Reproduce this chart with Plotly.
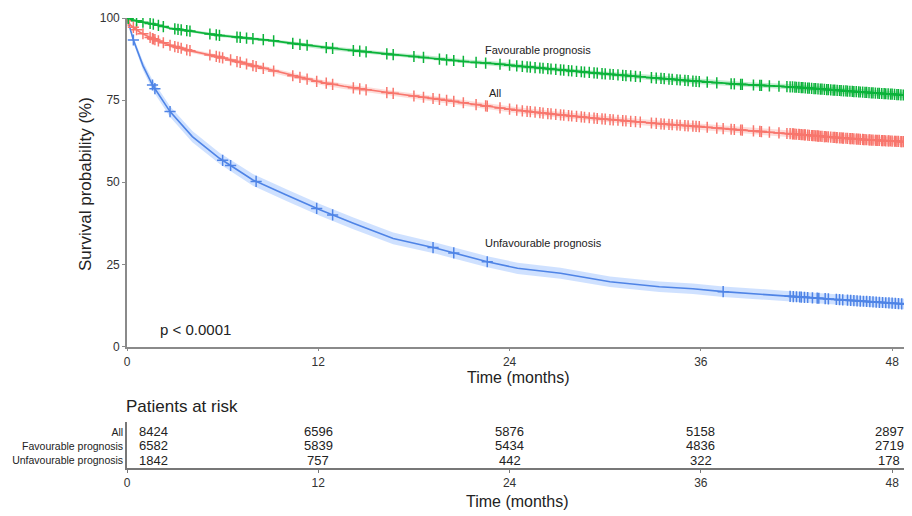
import numpy as np
import plotly.graph_objects as go

# ---------------- data ----------------
fav_t = [0, 0.3, 1.0, 1.6, 2.7, 4.0, 5.8, 7.5, 9.0, 10.5, 12.1, 13.6, 15.2, 16.8, 18.4, 20.0, 21.5, 23.0,
         24.5, 27.0, 29.5, 32.0, 34.0, 36.0, 38.5, 41.8, 44.5, 46.5, 48.9]
fav_s = [100, 99.5, 98.7, 98.2, 96.9, 96.0, 94.7, 93.9, 93.2, 92.2, 91.2, 90.4, 89.6, 88.8, 88.1, 87.3, 86.6, 86.1,
         85.4, 84.3, 83.2, 82.2, 81.4, 80.6, 79.8, 79.0, 78.0, 77.3, 76.5]
fav_ci = [0, 0.2, 0.3, 0.3, 0.4, 0.4, 0.5, 0.5, 0.5, 0.6, 0.6, 0.6, 0.6, 0.6, 0.7, 0.7, 0.7, 0.7,
          0.7, 0.7, 0.7, 0.8, 0.8, 0.8, 0.8, 0.8, 0.9, 0.9, 0.9]

all_t = [0, 0.2, 0.8, 1.6, 2.7, 4.0, 5.8, 7.5, 9.0, 10.5, 12.1, 13.6, 15.2, 16.8, 18.4, 20.0, 21.5, 23.0,
         24.5, 27.0, 29.5, 32.0, 34.0, 36.0, 38.5, 41.8, 44.5, 46.5, 48.9]
all_s = [100, 97.9, 95.7, 93.7, 91.7, 90.0, 88.1, 86.0, 84.1, 82.3, 80.5, 79.2, 78.0, 77.0, 76.0, 75.0, 73.9, 72.9,
         71.9, 70.6, 69.4, 68.4, 67.6, 66.9, 65.9, 64.7, 63.6, 62.9, 62.3]
all_ci = [0, 0.3, 0.4, 0.5, 0.5, 0.6, 0.6, 0.7, 0.7, 0.7, 0.8, 0.8, 0.8, 0.8, 0.8, 0.8, 0.9, 0.9,
          0.9, 0.9, 0.9, 0.9, 1.0, 1.0, 1.0, 1.0, 1.0, 1.1, 1.1]

unf_t = [0, 0.4, 1.0, 1.6, 2.7, 4.1, 5.8, 7.9, 10.0, 12.1, 14.2, 16.7, 19.4, 22.6, 24.5, 27.2, 30.3, 33.4,
         35.5, 37.4, 41.2, 44.9, 48.9]
unf_s = [100, 93.3, 85.5, 79.6, 71.5, 63.9, 57.3, 50.7, 46.1, 41.6, 37.5, 32.9, 29.9, 25.8, 23.8, 22.3, 19.7, 18.2,
         17.6, 16.7, 15.4, 14.2, 12.9]
unf_ci = [0, 0.9, 1.3, 1.5, 1.6, 1.7, 1.7, 1.8, 1.8, 1.8, 1.8, 1.8, 1.7, 1.7, 1.7, 1.7, 1.6, 1.6,
          1.6, 1.6, 1.6, 1.6, 1.6]

# censoring times (months)
fav_cens = [0.08, 0.6, 1.0, 1.45, 1.65, 1.97, 2.28, 3.0, 3.2, 3.4, 3.75, 3.95, 5.2, 5.6, 5.8, 6.9, 7.1, 7.5,
            7.9, 8.55, 9.2, 10.4, 10.85, 11.3, 12.5, 12.9, 14.2, 14.6, 15.0, 16.3, 16.7, 18.0, 18.6, 19.6,
            20.05, 20.5, 21.1, 21.9, 22.5, 23.4, 24.0, 24.45, 24.8, 25.1, 25.3, 25.6, 25.9, 26.1, 26.4, 26.6,
            26.9, 27.2, 27.4, 27.7, 27.9, 28.2, 28.5, 28.7, 29.0, 29.3, 29.5, 29.8, 30.0, 30.3, 30.5, 30.8,
            31.1, 31.3, 31.6, 31.9, 32.2, 32.9, 33.2, 33.5, 33.7, 34.0, 34.2, 34.5, 34.7, 35.0, 35.2, 35.5,
            35.7, 35.9, 36.4, 37.0, 37.9, 38.1, 38.5, 38.6, 39.3, 39.7, 39.8, 40.3, 40.9, 41.4, 41.6, 41.75,
            41.9, 42.0, 42.15, 42.3, 42.4, 42.55, 42.7, 42.8, 42.95, 43.1, 43.2, 43.35, 43.5, 43.6, 43.75,
            43.9, 44.0, 44.15, 44.3, 44.4, 44.55, 44.7, 44.8, 44.95, 45.1, 45.2, 45.35, 45.5, 45.6, 45.75,
            45.9, 46.0, 46.15, 46.3, 46.4, 46.55, 46.7, 46.8, 46.95, 47.1, 47.2, 47.35, 47.5, 47.6, 47.75,
            47.9, 48.0, 48.15, 48.3, 48.4, 48.55, 48.7, 48.8]
unf_cens = [0.4, 1.6, 1.75, 2.7, 6.0, 6.5, 8.1, 11.9, 12.9, 19.2, 20.5, 22.6, 37.4, 41.6, 41.8, 42.0, 42.2,
            42.3, 42.5, 42.7, 43.0, 43.3, 43.4, 43.8, 44.0, 44.5, 44.7, 44.9, 45.2, 45.4, 45.6, 45.8, 46.0,
            46.2, 46.4, 46.6, 46.8, 47.0, 47.2, 47.4, 47.6, 47.8, 48.0, 48.2, 48.4, 48.6, 48.8]
all_cens = sorted(set(fav_cens) | set(unf_cens))

# risk table
risk_times = [0, 12, 24, 36, 48]
risk_groups = ["All", "Favourable prognosis", "Unfavourable prognosis"]
risk_all = [8424, 6596, 5876, 5158, 2897]
risk_fav = [6582, 5839, 5434, 4836, 2719]
risk_unf = [1842, 757, 442, 322, 178]

x_ticks = [0, 12, 24, 36, 48]
y_ticks = [0, 25, 50, 75, 100]

# ---------------- styling ----------------
OFF = 8                      # page body margin of the html page
FW, FH = 900, 504            # figure size


def px(x):                   # screen x pixel -> paper fraction
    return (x - OFF) / FW


def py(y):                   # screen y pixel -> paper fraction
    return 1 - (y - OFF) / FH


GREEN, RED, BLUE = "#0BB33A", "#F8766D", "#4F84E6"
GREEN_F, RED_F, BLUE_F = "rgba(11,179,58,0.25)", "rgba(248,118,109,0.25)", "rgba(97,156,255,0.30)"
FONT = "Liberation Sans, Arial, sans-serif"
AXC = "#8a8a8a"
TXT = "#222222"

fig = go.Figure()


def add_curve(t, s, ci, cens, col, fill):
    t = np.array(t, float)
    s = np.array(s, float)
    ci = np.array(ci, float)
    fig.add_trace(go.Scatter(x=np.concatenate([t, t[::-1]]),
                             y=np.concatenate([s + ci, (s - ci)[::-1]]),
                             fill="toself", fillcolor=fill, line=dict(width=0),
                             hoverinfo="skip", showlegend=False, xaxis="x", yaxis="y"))
    fig.add_trace(go.Scatter(x=t, y=s, mode="lines", line=dict(color=col, width=1.6),
                             showlegend=False, xaxis="x", yaxis="y"))
    ct = np.array(cens, float)
    cy = np.interp(ct, t, s)
    fig.add_trace(go.Scatter(x=ct, y=cy, mode="markers",
                             marker=dict(symbol="cross-thin", size=8, color=col,
                                         line=dict(color=col, width=1.5)),
                             showlegend=False, xaxis="x", yaxis="y"))


add_curve(unf_t, unf_s, unf_ci, unf_cens, BLUE, BLUE_F)
add_curve(all_t, all_s, all_ci, all_cens, RED, RED_F)
add_curve(fav_t, fav_s, fav_ci, fav_cens, GREEN, GREEN_F)

# invisible trace for risk table axes
fig.add_trace(go.Scatter(x=[0], y=[1], mode="markers", marker=dict(opacity=0),
                         showlegend=False, hoverinfo="skip", xaxis="x2", yaxis="y2"))

xdom = [px(127), px(906)]
xr = [0, 48.87]

fig.update_layout(
    width=FW, height=FH, margin=dict(l=0, r=0, t=0, b=0, autoexpand=False),
    plot_bgcolor="white", paper_bgcolor="white",
    font=dict(family=FONT, color=TXT, size=12),
    xaxis=dict(domain=xdom, range=xr, tickvals=x_ticks, ticks="outside", ticklen=3,
               tickcolor=AXC, showline=True, linecolor=AXC, linewidth=1.6, showgrid=False,
               zeroline=False, anchor="y", automargin=False, tickfont=dict(size=12, color="#333")),
    yaxis=dict(domain=[py(346.5), py(18)], range=[0, 100], tickvals=y_ticks,
               ticks="outside", ticklen=3, tickcolor=AXC, showline=True, linecolor=AXC,
               linewidth=1.6, showgrid=False, zeroline=False, anchor="x", automargin=False,
               tickfont=dict(size=12, color="#333")),
    xaxis2=dict(domain=xdom, range=xr, tickvals=x_ticks, ticks="outside", ticklen=3,
                tickcolor="#777", showline=True, linecolor="#777", linewidth=1.6, showgrid=False,
                zeroline=False, anchor="y2", automargin=False, tickfont=dict(size=12, color="#333")),
    yaxis2=dict(domain=[py(468), py(422)], range=[0.43, 3.71], tickvals=[3, 2, 1],
                ticktext=risk_groups, ticks="", showline=True, linecolor="#777", linewidth=1.6,
                showgrid=False, zeroline=False, anchor="x2", automargin=False,
                tickfont=dict(size=10.5, color=TXT)),
)

ann = []
# risk numbers
for row, vals in zip([3, 2, 1], [risk_all, risk_fav, risk_unf]):
    for t, v in zip(risk_times, vals):
        if t == 0:
            a = dict(xanchor="left", xshift=10)
        elif t == 48:
            a = dict(xanchor="center", xshift=-3)
        else:
            a = dict(xanchor="center", xshift=0)
        ann.append(dict(x=t, y=row, xref="x2", yref="y2", text=str(v), showarrow=False,
                        yanchor="middle", font=dict(size=13, color=TXT), **a))

# curve labels
for txt, x, y in [("Favourable prognosis", 25.8, 90.3), ("All", 23.1, 77.2),
                  ("Unfavourable prognosis", 26.1, 31.5)]:
    ann.append(dict(x=x, y=y, xref="x", yref="y", text=txt, showarrow=False,
                    xanchor="center", yanchor="middle", font=dict(size=11, color=TXT)))

ann.append(dict(x=4.3, y=5.2, xref="x", yref="y", text="p < 0.0001", showarrow=False,
                xanchor="center", yanchor="middle", font=dict(size=15, color=TXT)))
ann.append(dict(x=px(85), y=py(184), xref="paper", yref="paper", text="Survival probability (%)",
                textangle=-90, showarrow=False, xanchor="center", yanchor="middle",
                font=dict(size=17, color=TXT)))
ann.append(dict(x=px(518), y=py(377), xref="paper", yref="paper", text="Time (months)",
                showarrow=False, xanchor="center", yanchor="middle", font=dict(size=16, color=TXT)))
ann.append(dict(x=px(517), y=py(501), xref="paper", yref="paper", text="Time (months)",
                showarrow=False, xanchor="center", yanchor="middle", font=dict(size=16, color=TXT)))
ann.append(dict(x=px(124), y=py(406), xref="paper", yref="paper", text="Patients at risk",
                showarrow=False, xanchor="left", yanchor="middle", font=dict(size=17, color=TXT)))

fig.update_layout(annotations=ann)
fig.write_html("out.html")
